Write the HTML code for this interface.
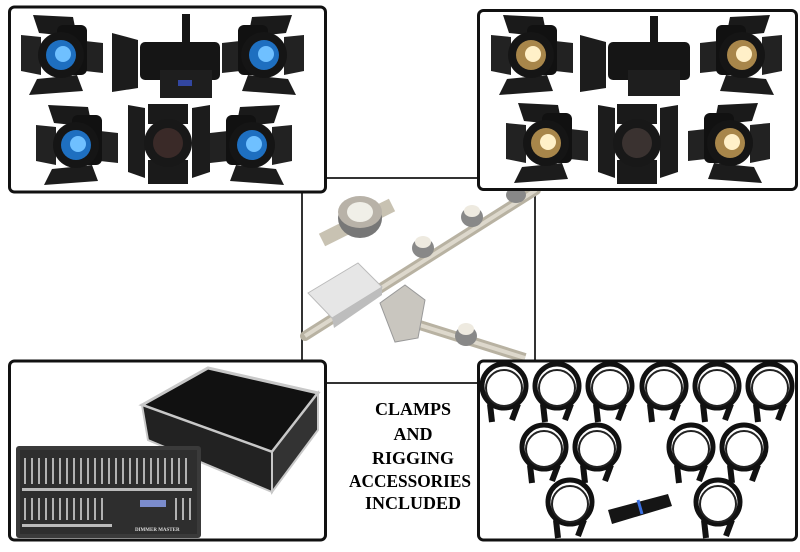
<!DOCTYPE html>
<html><head><meta charset="utf-8"><style>
html,body{margin:0;padding:0;background:#fff;}
svg{display:block;}
text{font-family:"Liberation Serif",serif;font-weight:bold;}
</style></head><body>
<svg width="800" height="552" viewBox="0 0 800 552" xmlns="http://www.w3.org/2000/svg">
<defs>
<g id="fres">
  <polygon points="-30,-40 10,-38 14,-18 -24,-22" fill="#1a1a1a"/>
  <polygon points="-42,-20 -22,-18 -22,20 -42,16" fill="#222"/>
  <polygon points="22,-14 40,-12 40,18 22,16" fill="#222"/>
  <polygon points="-26,24 14,20 20,36 -34,40" fill="#1c1c1c"/>
  <rect x="-6" y="-30" width="30" height="50" rx="6" fill="#111"/>
  <circle cx="-2" cy="0" r="23" fill="#151515"/>
</g>
<g id="cable">
  <ellipse cx="0" cy="-2" rx="22" ry="22" fill="none" stroke="#111" stroke-width="5"/>
  <ellipse cx="0" cy="0" rx="18" ry="18" fill="none" stroke="#222" stroke-width="2"/>
  <path d="M-14,16 L-12,34" stroke="#111" stroke-width="6"/>
  <path d="M14,16 L8,32" stroke="#111" stroke-width="6"/>
</g>
</defs>

<g stroke="#333" stroke-width="2" fill="none">
  <line x1="302" y1="178" x2="535" y2="178"/>
  <line x1="302" y1="178" x2="302" y2="362"/>
  <line x1="535" y1="178" x2="535" y2="362"/>
  <line x1="326" y1="383" x2="478" y2="383"/>
</g>

<g>
  <line x1="305" y1="336" x2="536" y2="190" stroke="#b8b2a2" stroke-width="10" stroke-linecap="round"/>
  <line x1="305" y1="336" x2="536" y2="190" stroke="#ddd8cc" stroke-width="4"/>
  <line x1="410" y1="322" x2="525" y2="358" stroke="#b8b2a2" stroke-width="10"/>
  <line x1="410" y1="322" x2="525" y2="358" stroke="#ddd8cc" stroke-width="4"/>
  <line x1="322" y1="240" x2="392" y2="205" stroke="#c8c2b2" stroke-width="14"/>
  <ellipse cx="360" cy="218" rx="22" ry="20" fill="#777"/>
  <ellipse cx="360" cy="212" rx="22" ry="16" fill="#b8b2a8"/>
  <ellipse cx="360" cy="212" rx="13" ry="10" fill="#f0efe8"/>
  <g fill="#888"><ellipse cx="423" cy="248" rx="11" ry="10"/><ellipse cx="472" cy="217" rx="11" ry="10"/><ellipse cx="516" cy="195" rx="10" ry="8"/><ellipse cx="466" cy="336" rx="11" ry="10"/></g>
  <g fill="#eeeae0"><ellipse cx="423" cy="242" rx="8" ry="6"/><ellipse cx="472" cy="211" rx="8" ry="6"/><ellipse cx="466" cy="329" rx="8" ry="6"/></g>
  <polygon points="308,293 358,263 382,287 332,318" fill="#e6e6e6" stroke="#bbb"/>
  <polygon points="332,318 382,287 382,295 334,328" fill="#bdbdbd"/>
  <polygon points="380,303 405,285 425,300 418,338 395,342" fill="#c9c6bf" stroke="#999"/>
</g>

<rect x="9.5" y="7" width="316" height="185" rx="5" fill="#fff" stroke="#111" stroke-width="3"/>
<g>
  <use href="#fres" x="63" y="55"/><circle cx="61" cy="55" r="15" fill="#1e6fc0"/><circle cx="63" cy="54" r="8" fill="#6fc0ff"/>
  <use href="#fres" transform="translate(262,55) scale(-1,1)"/><circle cx="264" cy="55" r="15" fill="#1e6fc0"/><circle cx="266" cy="54" r="8" fill="#6fc0ff"/>
  <use href="#fres" x="78" y="145"/><circle cx="76" cy="145" r="15" fill="#1e6fc0"/><circle cx="78" cy="144" r="8" fill="#6fc0ff"/>
  <use href="#fres" transform="translate(250,145) scale(-1,1)"/><circle cx="252" cy="145" r="15" fill="#1e6fc0"/><circle cx="254" cy="144" r="8" fill="#6fc0ff"/>
  <polygon points="112,33 138,40 138,88 112,92" fill="#1c1c1c"/>
  <rect x="140" y="42" width="80" height="38" rx="5" fill="#151515"/>
  <rect x="182" y="14" width="8" height="30" fill="#151515"/>
  <rect x="160" y="70" width="52" height="28" fill="#1e1e1e"/><rect x="178" y="80" width="14" height="6" fill="#3246a0"/>
  <polygon points="128,105 145,108 145,178 128,172" fill="#1c1c1c"/>
  <polygon points="192,108 210,105 210,172 192,178" fill="#1c1c1c"/>
  <rect x="148" y="104" width="40" height="20" fill="#1a1a1a"/>
  <rect x="148" y="160" width="40" height="24" fill="#1a1a1a"/>
  <circle cx="168" cy="143" r="24" fill="#181818"/><circle cx="168" cy="143" r="15" fill="#3a2a28"/>
</g>

<rect x="478.5" y="10.5" width="318" height="179" rx="5" fill="#fff" stroke="#111" stroke-width="3"/>
<g>
  <use href="#fres" x="533" y="55"/><circle cx="531" cy="55" r="15" fill="#a8864a"/><circle cx="533" cy="54" r="8" fill="#fff0c8"/>
  <use href="#fres" transform="translate(740,55) scale(-1,1)"/><circle cx="742" cy="55" r="15" fill="#a8864a"/><circle cx="744" cy="54" r="8" fill="#fff0c8"/>
  <use href="#fres" x="548" y="143"/><circle cx="546" cy="143" r="15" fill="#a8864a"/><circle cx="548" cy="142" r="8" fill="#fff0c8"/>
  <use href="#fres" transform="translate(728,143) scale(-1,1)"/><circle cx="730" cy="143" r="15" fill="#a8864a"/><circle cx="732" cy="142" r="8" fill="#fff0c8"/>
  <polygon points="580,35 606,42 606,88 580,92" fill="#1c1c1c"/>
  <rect x="608" y="42" width="82" height="38" rx="5" fill="#151515"/>
  <rect x="650" y="16" width="8" height="28" fill="#151515"/>
  <rect x="628" y="70" width="52" height="26" fill="#1e1e1e"/>
  <polygon points="598,105 615,108 615,178 598,172" fill="#1c1c1c"/>
  <polygon points="660,108 678,105 678,172 660,178" fill="#1c1c1c"/>
  <rect x="617" y="104" width="40" height="20" fill="#1a1a1a"/>
  <rect x="617" y="160" width="40" height="24" fill="#1a1a1a"/>
  <circle cx="637" cy="143" r="24" fill="#181818"/><circle cx="637" cy="143" r="15" fill="#3a3230"/>
</g>

<rect x="9.5" y="361" width="316" height="179" rx="5" fill="#fff" stroke="#111" stroke-width="3"/>
<g>
  <polygon points="142,405 208,368 318,393 272,452" fill="#111" stroke="#c8c8c8" stroke-width="3"/>
  <polygon points="142,405 272,452 272,492 148,440" fill="#222" stroke="#c8c8c8" stroke-width="2"/>
  <polygon points="272,452 318,393 318,430 272,492" fill="#333" stroke="#c8c8c8" stroke-width="2"/>
  <rect x="16" y="446" width="185" height="92" rx="3" fill="#3a3a3a"/>
  <rect x="20" y="450" width="177" height="84" fill="#2e2e2e"/>
  <g stroke="#ddd" stroke-width="1.5">
    <path d="M25,458v26M32,458v26M39,458v26M46,458v26M53,458v26M60,458v26M67,458v26M74,458v26M81,458v26M88,458v26M95,458v26M102,458v26M109,458v26M116,458v26M123,458v26M130,458v26M137,458v26M144,458v26M151,458v26M158,458v26M165,458v26M172,458v26M179,458v26M186,458v26"/>
    <path d="M25,498v22M32,498v22M39,498v22M46,498v22M53,498v22M60,498v22M67,498v22M74,498v22M81,498v22M88,498v22M95,498v22M102,498v22M176,498v22M183,498v22M190,498v22"/>
  </g>
  <g fill="#bbb"><rect x="22" y="488" width="170" height="3"/><rect x="22" y="524" width="90" height="3"/></g>
  <rect x="140" y="500" width="26" height="7" fill="#7b8ccc"/>
  <text x="135" y="531" font-size="5" fill="#ddd" font-family="Liberation Sans,sans-serif">DIMMER MASTER</text>
</g>

<rect x="478.5" y="361" width="318" height="179" rx="5" fill="#fff" stroke="#111" stroke-width="3"/>
<g>
  <use href="#cable" x="504" y="388"/><use href="#cable" x="557" y="388"/><use href="#cable" x="610" y="388"/>
  <use href="#cable" x="664" y="388"/><use href="#cable" x="717" y="388"/><use href="#cable" x="770" y="388"/>
  <use href="#cable" x="544" y="449"/><use href="#cable" x="597" y="449"/><use href="#cable" x="691" y="449"/><use href="#cable" x="744" y="449"/>
  <use href="#cable" x="570" y="504"/><use href="#cable" x="718" y="504"/>
  <polygon points="608,510 668,494 672,506 612,524" fill="#151515"/>
  <line x1="638" y1="500" x2="642" y2="514" stroke="#3a6fe0" stroke-width="3"/>
</g>

<g font-size="18" text-anchor="middle" fill="#000">
  <text x="413" y="415">CLAMPS</text>
  <text x="413" y="440">AND</text>
  <text x="413" y="464">RIGGING</text>
  <text x="410" y="487" textLength="122" lengthAdjust="spacingAndGlyphs">ACCESSORIES</text>
  <text x="413" y="509">INCLUDED</text>
</g>
</svg>
</body></html>
